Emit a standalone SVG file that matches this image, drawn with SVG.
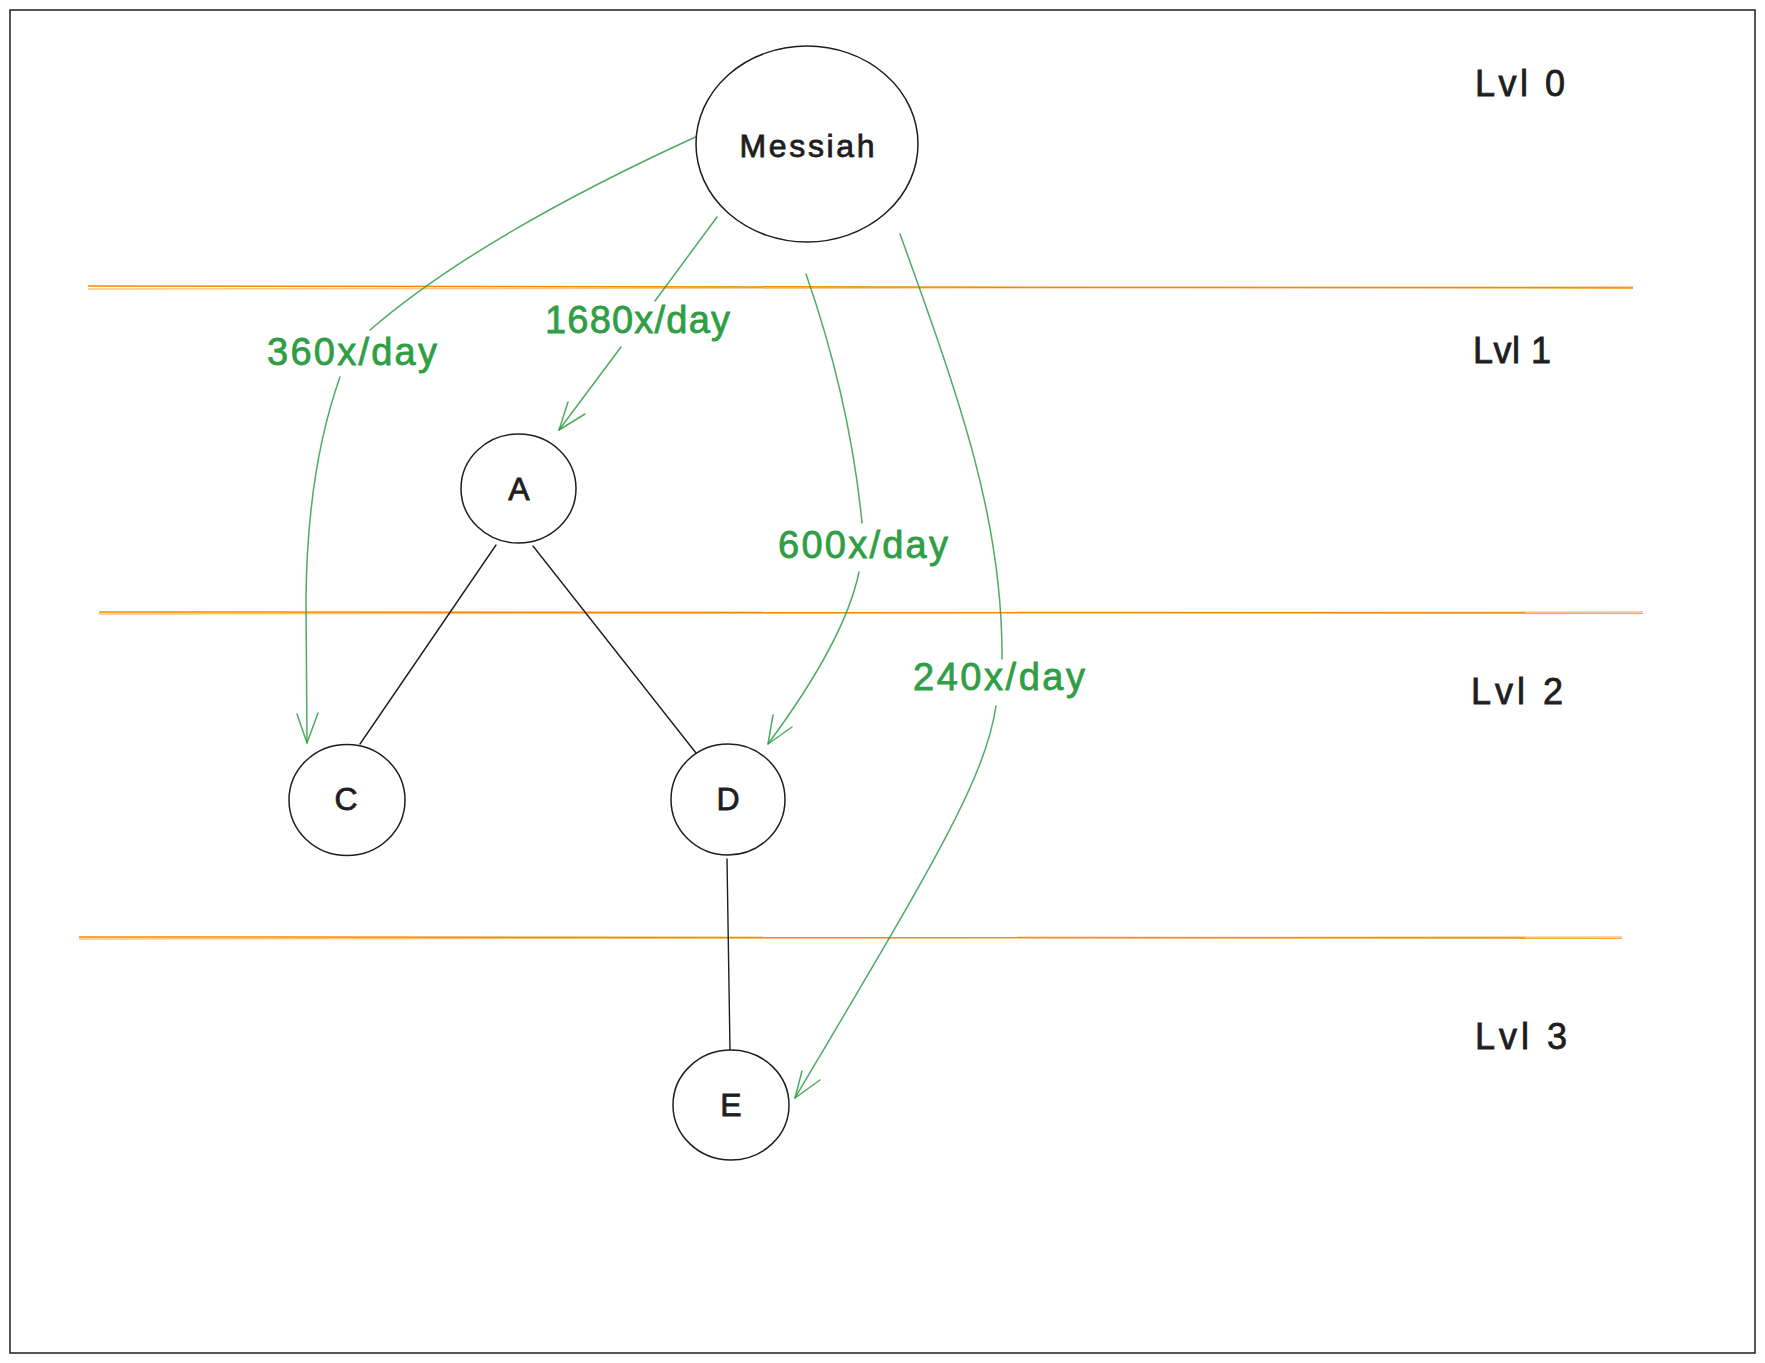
<svg xmlns="http://www.w3.org/2000/svg" width="1765" height="1363" viewBox="0 0 1765 1363">
<style>
.node{fill:#ffffff;stroke:#1e1e1e;stroke-width:1.5}
.nodetxt{font-family:"Liberation Sans",Arial,sans-serif;font-size:32px;fill:#1e1e1e;stroke:#1e1e1e;stroke-width:0.8;text-anchor:middle}
.lvl{font-family:"Liberation Sans",Arial,sans-serif;font-size:36px;fill:#1e1e1e;stroke:#1e1e1e;stroke-width:0.8}
.lab{font-family:"Liberation Sans",Arial,sans-serif;font-size:38px;fill:#2f9e44;stroke:#2f9e44;stroke-width:0.8}
.edge{fill:none;stroke:#1e1e1e;stroke-width:1.4;stroke-linecap:round}
.flow{fill:none;stroke:#2f9e44;stroke-width:1.5;stroke-opacity:0.85;stroke-linecap:round;stroke-linejoin:round}
.sep{fill:none;stroke:#f08c00;stroke-width:1.5}
.frame{fill:none;stroke:#1e1e1e;stroke-width:1.5}
</style>
<rect width="1765" height="1363" fill="#ffffff"/>
<rect class="frame" x="10" y="10" width="1745" height="1343"/>
<g id="levels">
  <path class="sep" d="M88,286 L1633,288"/>
  <path class="sep" d="M88,289 L1633,287" stroke-opacity="0.5"/>
  <path class="sep" d="M99,612 L1643,613"/>
  <path class="sep" d="M99,614 L1643,612" stroke-opacity="0.5"/>
  <path class="sep" d="M79,937 L1622,938"/>
  <path class="sep" d="M79,939 L1622,937" stroke-opacity="0.5"/>
  <text class="lvl" x="1475" y="96" textLength="90" lengthAdjust="spacing">Lvl 0</text>
  <text class="lvl" x="1473" y="363" textLength="78" lengthAdjust="spacing">Lvl 1</text>
  <text class="lvl" x="1471" y="704" textLength="92" lengthAdjust="spacing">Lvl 2</text>
  <text class="lvl" x="1475" y="1049" textLength="92" lengthAdjust="spacing">Lvl 3</text>
</g>
<g id="connectors">
  <path class="edge" d="M496,545 L360,744"/>
  <path class="edge" d="M533,546 L696,753"/>
  <path class="edge" d="M727,859 L730,1050"/>
  <g id="flow-360">
    <path class="flow" d="M702,134 Q480,235 370,330"/>
    <path class="flow" d="M340,377 Q307,470 306,600 L307,743"/>
    <path class="flow" d="M297,714 L307,743 L318,713"/>
    <text class="lab" x="267" y="365" textLength="170" lengthAdjust="spacing">360x/day</text>
  </g>
  <g id="flow-1680">
    <path class="flow" d="M717,217 L655,301"/>
    <path class="flow" d="M621,347 L559,430"/>
    <path class="flow" d="M568,402 L559,430 L585,414"/>
    <text class="lab" x="545" y="333" textLength="185" lengthAdjust="spacing">1680x/day</text>
  </g>
  <g id="flow-600">
    <path class="flow" d="M806,274 Q850,400 862,523"/>
    <path class="flow" d="M859,572 Q845,640 768,744"/>
    <path class="flow" d="M773,715 L768,744 L792,727"/>
    <text class="lab" x="778" y="558" textLength="170" lengthAdjust="spacing">600x/day</text>
  </g>
  <g id="flow-240">
    <path class="flow" d="M900,234 C960,400 1003,520 1002,659"/>
    <path class="flow" d="M996,706 C985,780 930,870 795,1098"/>
    <path class="flow" d="M802,1071 L795,1098 L820,1080"/>
    <text class="lab" x="913" y="690" textLength="172" lengthAdjust="spacing">240x/day</text>
  </g>
</g>
<g id="node-messiah">
  <ellipse class="node" cx="807" cy="144" rx="111" ry="98" fill="none"/>
  <text class="nodetxt" x="807" y="157" font-size="36" textLength="135" lengthAdjust="spacing">Messiah</text>
</g>
<g id="node-A">
  <ellipse class="node" cx="518.5" cy="488.5" rx="57.5" ry="54.5"/>
  <text class="nodetxt" x="519" y="500">A</text>
</g>
<g id="node-C">
  <ellipse class="node" cx="347" cy="800" rx="58" ry="55.5"/>
  <text class="nodetxt" x="346" y="810">C</text>
</g>
<g id="node-D">
  <ellipse class="node" cx="728" cy="799.5" rx="57" ry="55.5"/>
  <text class="nodetxt" x="728" y="810">D</text>
</g>
<g id="node-E">
  <ellipse class="node" cx="731" cy="1105" rx="58" ry="55"/>
  <text class="nodetxt" x="731" y="1116">E</text>
</g>
</svg>
